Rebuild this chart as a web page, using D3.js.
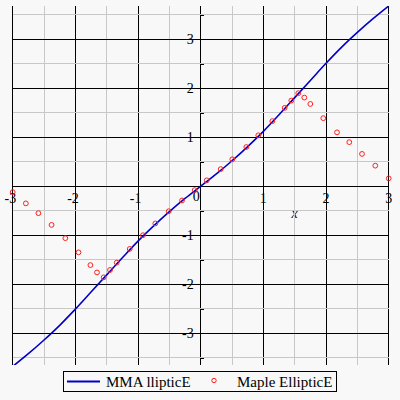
<!DOCTYPE html>
<html>
<head>
<meta charset="utf-8">
<script src="https://cdn.jsdelivr.net/npm/d3@7"></script>
<style>
  body { margin: 0; background: #f8f8f8; }
  svg { display: block; }
  text { font-family: "Liberation Serif", "Times New Roman", serif; }
</style>
</head>
<body>
<script>
// blue curve
var lineX = [-3, -2.75, -2.5, -2.25, -2, -1.75, -1.5, -1.25, -1, -0.75, -0.5, -0.25, 0,
             0.25, 0.5, 0.75, 1, 1.25, 1.5, 1.75, 2, 2.25, 2.5, 2.75, 3];
var lineY = [-3.68, -3.42, -3.14, -2.84, -2.51, -2.16, -1.81, -1.46, -1.12, -0.81, -0.52, -0.25, 0,
             0.25, 0.52, 0.81, 1.12, 1.46, 1.81, 2.16, 2.51, 2.84, 3.14, 3.42, 3.68];

// red circles
var mapleX = [-3.0, -2.79, -2.59, -2.38, -2.16, -1.95, -1.76, -1.655, -1.548, -1.447, -1.34, -1.133, -0.921, -0.724, -0.51, -0.298, -0.096,
              0.096, 0.319, 0.504, 0.728, 0.919, 1.143, 1.34, 1.446, 1.557, 1.653, 1.749, 1.956, 2.175, 2.371, 2.574, 2.786, 3.0];
var mapleY = [-0.12, -0.35, -0.55, -0.79, -1.06, -1.35, -1.61, -1.76, -1.86, -1.71, -1.56, -1.28, -1.0, -0.76, -0.51, -0.29, -0.08,
              0.12, 0.35, 0.55, 0.80, 1.04, 1.33, 1.60, 1.75, 1.90, 1.81, 1.68, 1.39, 1.10, 0.90, 0.66, 0.42, 0.16];

var xTicks = [-3, -2, -1, 1, 2, 3];
var yTicks = [-3, -2, -1, 1, 2, 3];
var seriesNames = ["MMA llipticE", "Maple EllipticE"];

var w = 400, h = 400;

var xScale = d3.scaleLinear().domain([-3, 3]).range([12.7, 388.7]);
var yScale = d3.scaleLinear().domain([-3.65, 3.68]).range([365, 6]);

var svg = d3.select("body").append("svg")
  .attr("width", w)
  .attr("height", h);

svg.append("rect")
  .attr("width", w).attr("height", h)
  .attr("fill", "#f8f8f8");

// tick labels (drawn under the grid, like the original)
svg.selectAll(".xlab")
  .data(xTicks)
  .enter().append("text")
  .attr("class", "xlab")
  .attr("x", function(d) { return xScale(d) + 3.5; })
  .attr("y", yScale(0) + 17)
  .attr("text-anchor", "end")
  .attr("font-size", 14)
  .text(function(d) { return d; });

svg.append("text")
  .attr("x", xScale(0) - 1)
  .attr("y", yScale(0) + 15)
  .attr("text-anchor", "end")
  .attr("font-size", 14)
  .text("0");

svg.selectAll(".ylab")
  .data(yTicks)
  .enter().append("text")
  .attr("class", "ylab")
  .attr("x", xScale(0) - 7)
  .attr("y", function(d) { return yScale(d) + 5; })
  .attr("text-anchor", "end")
  .attr("font-size", 14)
  .text(function(d) { return d; });

svg.append("text")
  .attr("x", xScale(1.5))
  .attr("y", yScale(0) + 32)
  .attr("text-anchor", "middle")
  .attr("font-size", 14)
  .attr("font-style", "italic")
  .text("x");

// grid
var vx = d3.range(-6, 7).map(function(i) { return i / 2; });
var hy = d3.range(-7, 8).map(function(i) { return i / 2; });

svg.selectAll(".vg")
  .data(vx)
  .enter().append("line")
  .attr("x1", function(d) { return xScale(d); })
  .attr("x2", function(d) { return xScale(d); })
  .attr("y1", yScale.range()[1])
  .attr("y2", yScale.range()[0])
  .attr("stroke", function(d) { return d % 1 === 0 ? "#000" : "#c8c8c8"; })
  .attr("stroke-width", 1)
  .attr("shape-rendering", "crispEdges");

svg.selectAll(".hg")
  .data(hy)
  .enter().append("line")
  .attr("x1", xScale.range()[0])
  .attr("x2", xScale.range()[1])
  .attr("y1", function(d) { return yScale(d); })
  .attr("y2", function(d) { return yScale(d); })
  .attr("stroke", function(d) { return d % 1 === 0 ? "#000" : "#c8c8c8"; })
  .attr("stroke-width", 1)
  .attr("shape-rendering", "crispEdges");

// small ticks on the y axis at the half units
var yAxis = d3.axisRight(yScale)
  .tickValues(hy.filter(function(d) { return d % 1 !== 0; }))
  .tickSize(3)
  .tickFormat("");
svg.append("g")
  .attr("transform", "translate(" + xScale(0) + ",0)")
  .attr("shape-rendering", "crispEdges")
  .call(yAxis)
  .call(function(g) { g.select(".domain").remove(); });

// curve
var pts = lineX.map(function(x, i) { return [x, lineY[i]]; });
svg.append("defs").append("clipPath").attr("id", "clip")
  .append("rect")
  .attr("x", xScale.range()[0]).attr("y", yScale.range()[1])
  .attr("width", xScale.range()[1] - xScale.range()[0])
  .attr("height", yScale.range()[0] - yScale.range()[1]);

svg.append("path")
  .datum(pts)
  .attr("clip-path", "url(#clip)")
  .attr("fill", "none")
  .attr("stroke", "#0000c8")
  .attr("stroke-width", 1.6)
  .attr("d", d3.line()
    .x(function(d) { return xScale(d[0]); })
    .y(function(d) { return yScale(d[1]); })
    .curve(d3.curveCatmullRom));

svg.selectAll(".pt")
  .data(mapleX)
  .enter().append("circle")
  .attr("cx", function(d) { return xScale(d); })
  .attr("cy", function(d, i) { return yScale(mapleY[i]); })
  .attr("r", 2.4)
  .attr("fill", "none")
  .attr("stroke", "#ff2020")
  .attr("stroke-width", 1);

// legend
var lg = svg.append("g");
lg.append("rect")
  .attr("x", 63.5).attr("y", 371.5)
  .attr("width", 273).attr("height", 20)
  .attr("fill", "none")
  .attr("stroke", "#000");
lg.append("line")
  .attr("x1", 67).attr("x2", 100)
  .attr("y1", 381.5).attr("y2", 381.5)
  .attr("stroke", "#0000c8")
  .attr("stroke-width", 2);
lg.append("text")
  .attr("x", 106).attr("y", 387)
  .attr("font-size", 15)
  .text(seriesNames[0]);
lg.append("circle")
  .attr("cx", 214).attr("cy", 380.5)
  .attr("r", 2.2)
  .attr("fill", "none")
  .attr("stroke", "#ff2020");
lg.append("text")
  .attr("x", 237).attr("y", 387)
  .attr("font-size", 15)
  .text(seriesNames[1]);
</script>
</body>
</html>
